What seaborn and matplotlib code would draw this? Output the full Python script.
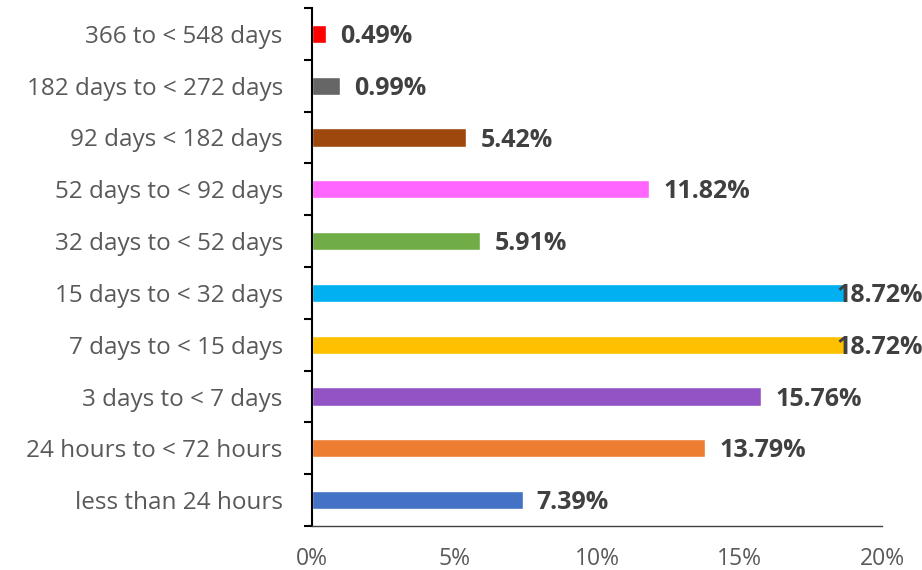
import matplotlib
matplotlib.use("Agg")
import matplotlib.pyplot as plt
from matplotlib.ticker import FixedLocator, PercentFormatter
import seaborn as sns
import pandas as pd

categories = [
    "366 to < 548 days",
    "182 days to < 272 days",
    "92 days < 182 days",
    "52 days to < 92 days",
    "32 days to < 52 days",
    "15 days to < 32 days",
    "7 days to < 15 days",
    "3 days to < 7 days",
    "24 hours to < 72 hours",
    "less than 24 hours",
]
shares = [0.49, 0.99, 5.42, 11.82, 5.91, 18.72, 18.72, 15.76, 13.79, 7.39]
colors = ["#FF0000", "#666666", "#9E480E", "#FF66FF", "#70AD47",
          "#00B0F0", "#FFC000", "#9254C4", "#ED7D31", "#4472C4"]
x_ticks = [0, 5, 10, 15, 20]

df = pd.DataFrame({"category": categories, "share": shares})

sns.set_theme(style="white")
plt.rcParams["font.family"] = ["Open Sans", "DejaVu Sans"]

fig = plt.figure(figsize=(9.22, 5.70), dpi=100)
ax = fig.add_axes([312 / 922, 1 - 526 / 570, 570 / 922, 518 / 570])

sns.barplot(data=df, y="category", x="share", hue="category",
            palette=colors, order=categories, hue_order=categories,
            orient="h", width=0.35, legend=False, ax=ax, saturation=1)

ax.set_xlim(0, 20)
ax.set_ylim(len(categories) - 0.5, -0.5)
ax.set_xticks(x_ticks)
ax.xaxis.set_major_formatter(PercentFormatter(decimals=0))
ax.set_xlabel("")
ax.set_ylabel("")

for s in ["top", "right"]:
    ax.spines[s].set_visible(False)
ax.spines["left"].set_color("black")
ax.spines["left"].set_linewidth(1.5)
ax.spines["bottom"].set_color("#404040")
ax.spines["bottom"].set_linewidth(1.0)

ax.tick_params(axis="x", length=0, pad=15, labelsize=16.5, labelcolor="#595959")
ax.tick_params(axis="y", which="major", length=0, pad=21, labelsize=17.5,
               labelcolor="#595959")
ax.yaxis.set_minor_locator(FixedLocator([i - 0.5 for i in range(len(categories) + 1)]))
ax.tick_params(axis="y", which="minor", length=6, width=1.5, color="black",
               direction="out", left=True)

for i, v in enumerate(shares):
    x = min(v + 0.5, 18.39)
    ax.text(x, i + 0.05, f"{v:.2f}%", ha="left", va="center",
            fontsize=18, fontweight="bold", color="#404040")

fig.savefig("out.png", dpi=100)
